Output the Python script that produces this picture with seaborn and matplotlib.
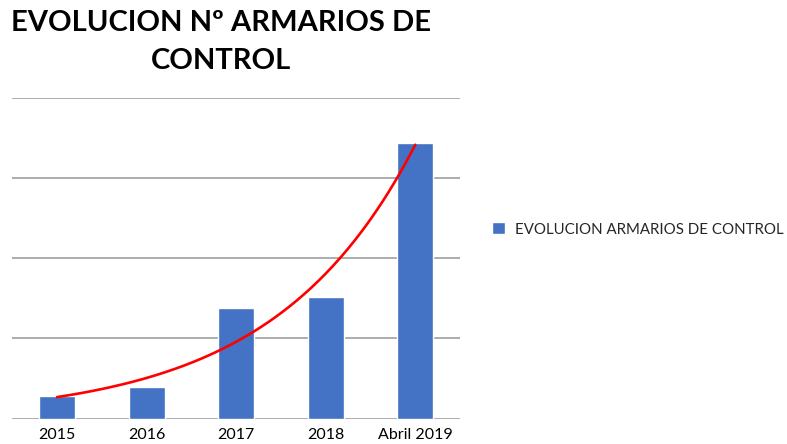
import numpy as np
import pandas as pd
import matplotlib
matplotlib.use("Agg")
import matplotlib.pyplot as plt
import seaborn as sns

categories = ["2015", "2016", "2017", "2018", "Abril 2019"]
values = [14, 20, 69, 76, 172]
series_name = "EVOLUCION ARMARIOS DE CONTROL"
title = "EVOLUCION Nº ARMARIOS DE\nCONTROL"

sns.set_theme(style="white")
plt.rcParams["font.family"] = ["Lato", "DejaVu Sans"]

df = pd.DataFrame({"cat": categories, "val": values})

fig = plt.figure(figsize=(7.87, 4.44), dpi=100)
ax = fig.add_axes([0.0156, 0.057, 0.569, 0.723])

sns.barplot(data=df, x="cat", y="val", color="#4472C4", width=0.4,
            saturation=1, ax=ax, label=series_name)

# exponential trendline fitted to the data
x = np.arange(len(values))
b, a = np.polyfit(x, np.log(values), 1)
xs = np.linspace(0, len(values) - 1, 200)
ax.plot(xs, np.exp(a + b * xs), color="#FF0000", lw=1.9, zorder=5)

ax.set_ylim(0, 200)
ax.set_xlim(-0.5, len(values) - 0.5)
ax.set_yticks([0, 50, 100, 150, 200])
ax.yaxis.grid(True, color="#A6A6A6", lw=1.3)
ax.set_axisbelow(True)
ax.tick_params(axis="y", left=False, labelleft=False)
ax.tick_params(axis="x", bottom=False, labelsize=11.5, pad=1, colors="#000000")
for s in ax.spines.values():
    s.set_visible(False)
ax.set_xlabel("")
ax.set_ylabel("")

handles, labels = ax.get_legend_handles_labels()
if ax.get_legend() is not None:
    ax.get_legend().remove()

fig.text(0.281, 0.978, title, ha="center", va="top", fontsize=21,
         fontweight="bold", linespacing=1.6, color="#000000")

fig.legend(handles, labels, loc="center left", bbox_to_anchor=(0.6195, 0.483),
           frameon=False, fontsize=10.8, handlelength=0.85, handleheight=0.85,
           handletextpad=0.7, borderaxespad=0, borderpad=0.3)

fig.savefig("out.png", dpi=100)
